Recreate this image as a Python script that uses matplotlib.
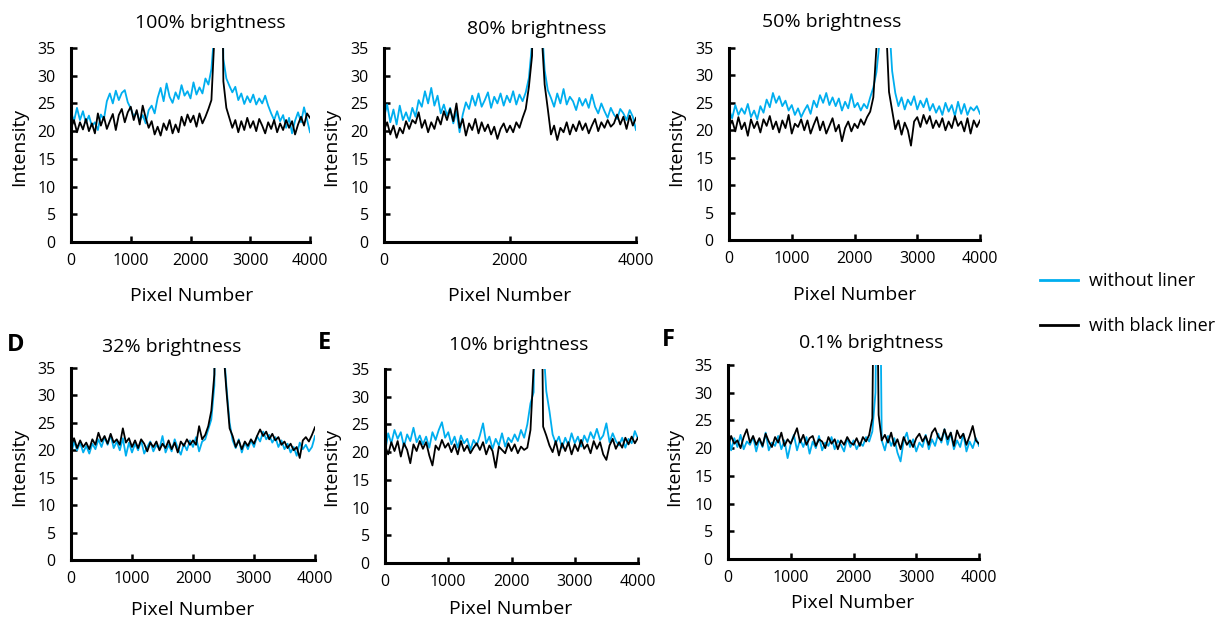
import numpy as np
import matplotlib
matplotlib.use("Agg")
import matplotlib.pyplot as plt
from matplotlib.lines import Line2D

plt.rcParams['font.family'] = ['Open Sans', 'DejaVu Sans']

pixel = np.arange(0, 4001, 50)

titles = ["100% brightness", "80% brightness", "50% brightness",
          "32% brightness", "10% brightness", "0.1% brightness"]
panel_letters = ["", "", "", "D", "E", "F"]
series_names = ["without liner", "with black liner"]

a_without = [23.5, 21.8, 24.2, 22.0, 23.6, 21.5, 22.8, 20.9, 21.6, 20.2,
             23.0, 22.1, 25.4, 26.8, 25.0, 27.3, 25.6, 26.9, 27.4, 25.2,
             24.1, 22.6, 23.5, 21.8, 22.9, 21.4, 23.8, 24.6, 23.2, 26.0,
             27.8, 25.4, 28.6, 26.2, 25.1, 27.0, 25.8, 28.3, 26.4, 27.2,
             25.9, 28.8, 26.6, 27.9, 26.8, 29.5, 28.4, 31.2, 38.0, 80.0,
             80.0, 33.0, 29.5, 28.2, 27.0, 28.0, 25.6, 26.8, 24.9, 26.3,
             25.2, 26.6, 24.8, 25.9, 25.0, 26.4, 24.6, 23.2, 22.0, 23.6,
             21.8, 22.9, 20.6, 22.4, 19.6, 21.9, 23.4, 21.6, 24.3, 22.1,
             19.8]
a_black = [20.5, 22.0, 19.8, 21.6, 20.3, 22.2, 20.0, 21.4, 19.6, 23.2,
           21.0, 22.6, 20.4, 21.8, 23.1, 20.2, 22.9, 24.0, 21.6, 23.4,
           24.4, 22.0, 23.8, 21.2, 24.6, 22.4, 20.6, 21.8, 19.4, 20.8,
           19.2, 21.4, 20.2, 22.0, 19.6, 21.2, 19.8, 22.6, 21.0, 23.0,
           21.6, 22.8, 20.8, 23.2, 21.4, 22.6, 24.0, 25.6, 37.0, 80.0,
           80.0, 29.0, 24.2, 22.4, 20.6, 22.0, 19.8, 21.8, 20.2, 22.4,
           20.6, 21.8, 20.0, 22.2, 21.0, 19.6, 21.6, 20.4, 22.0, 19.8,
           21.4, 20.2, 22.0, 20.6, 21.8, 19.4, 21.2, 22.6, 21.0, 23.2,
           22.4]

b_without = [22.5, 24.8, 21.6, 23.9, 21.2, 24.6, 22.0, 23.4, 21.8, 24.2,
             22.6, 25.6, 24.4, 27.2, 25.0, 27.8, 24.6, 26.4, 23.2, 24.8,
             22.8, 24.2, 21.4, 23.6, 19.8, 23.0, 25.2, 24.0, 26.4, 24.6,
             26.8, 24.4, 25.6, 27.0, 24.2, 26.2, 25.0, 26.8, 24.6, 26.4,
             25.2, 27.2, 24.8, 26.6, 25.4, 27.0, 29.6, 35.8, 80.0, 80.0,
             40.0, 31.0, 27.4, 26.0, 24.4, 26.8, 25.0, 27.6, 24.8, 26.2,
             25.4, 23.8, 26.0, 24.6, 25.8, 24.2, 26.6, 24.4, 23.2, 25.0,
             23.6, 22.4, 24.2, 23.0, 22.2, 24.0, 23.2, 22.0, 23.8, 22.6,
             20.2]
b_black = [20.2, 21.6, 19.4, 21.0, 18.8, 20.6, 19.6, 21.8, 20.4, 22.0,
           21.4, 23.4, 20.6, 22.0, 19.8, 21.6, 20.4, 22.6, 21.2, 23.6,
           22.0, 24.0, 21.8, 25.0, 20.6, 22.2, 19.2, 21.4, 20.2, 22.2,
           19.6, 21.6, 20.0, 21.2, 19.4, 20.8, 18.6, 20.4, 21.4, 19.8,
           21.0, 19.8, 21.6, 20.6, 22.4, 24.0, 28.0, 33.6, 80.0, 80.0,
           38.0, 28.4, 24.0, 19.4, 21.0, 18.4, 20.6, 19.8, 21.6, 19.4,
           21.2, 20.0, 21.8, 20.2, 21.4, 19.6, 21.0, 22.2, 20.0, 21.6,
           20.6, 22.0, 20.8, 21.4, 23.0, 21.2, 22.6, 20.4, 22.8, 21.0,
           22.4]

c_without = [23.8, 22.2, 24.6, 22.8, 24.0, 23.0, 24.8, 22.4, 23.6, 22.0,
             24.4, 23.2, 25.6, 24.2, 26.8, 25.0, 26.2, 24.4, 25.4, 23.6,
             24.6, 22.8, 24.0, 22.4, 23.6, 24.6, 23.0, 25.4, 24.2, 26.4,
             25.0, 26.8, 24.6, 26.0, 24.4, 25.8, 23.6, 25.2, 24.0, 26.6,
             24.2, 25.0, 23.6, 24.8, 24.0, 26.0, 27.8, 30.6, 36.2, 80.0,
             80.0, 40.0, 30.8, 26.8, 24.4, 26.0, 23.8, 25.6, 24.6, 26.2,
             23.8, 25.4, 24.2, 25.8, 23.6, 24.8, 23.2, 24.4, 22.8, 25.0,
             23.4, 24.6, 22.6, 25.2, 23.0, 24.8, 22.8, 24.2, 23.6, 24.4,
             23.0]
c_black = [20.6, 21.8, 19.8, 22.4, 20.2, 21.4, 19.0, 22.0, 20.4, 21.6,
           19.6, 22.0, 20.8, 22.6, 20.2, 21.6, 19.6, 21.8, 20.4, 22.8,
           19.4, 21.2, 20.6, 22.0, 20.0, 21.8, 19.4, 21.0, 22.4, 20.0,
           21.6, 19.4, 20.8, 22.2, 19.8, 21.0, 18.0, 20.4, 21.6, 19.8,
           21.2, 20.4, 22.0, 21.0, 22.4, 23.4, 26.0, 35.2, 80.0, 80.0,
           40.0, 27.0, 23.6, 20.2, 21.8, 19.2, 21.4, 20.0, 17.2, 21.6,
           22.4, 20.6, 22.8, 21.2, 22.6, 20.4, 21.8, 20.6, 22.2, 20.0,
           21.6, 20.4, 22.6, 20.8, 21.6, 19.8, 22.2, 19.4, 21.8, 20.6,
           21.8]

d_without = [19.2, 21.6, 20.0, 21.4, 19.6, 20.8, 19.4, 21.2, 20.2, 22.0,
             20.6, 22.4, 21.0, 22.8, 20.4, 21.6, 20.0, 22.2, 19.0, 21.4,
             19.6, 21.2, 20.0, 21.8, 19.4, 20.6, 21.6, 19.8, 21.0, 20.2,
             22.6, 19.6, 21.0, 19.8, 22.0, 20.4, 19.2, 21.2, 20.0, 21.8,
             20.6, 22.4, 19.8, 21.6, 22.0, 23.8, 25.6, 31.8, 80.0, 80.0,
             39.0, 31.4, 25.0, 21.8, 20.4, 22.0, 19.6, 21.4, 20.2, 21.8,
             20.6, 22.6, 21.6, 23.4, 22.0, 22.8, 21.4, 22.4, 20.6, 21.8,
             20.2, 21.2, 19.6, 20.6, 19.0, 21.4, 20.2, 21.0, 19.8, 20.6,
             22.6]
d_black = [20.8, 22.2, 20.4, 21.8, 20.6, 21.4, 20.2, 22.0, 21.0, 23.2,
           21.6, 22.6, 21.2, 23.0, 21.4, 22.0, 21.0, 24.0, 21.4, 22.2,
           20.6, 21.8, 20.4, 22.0, 21.2, 19.8, 21.4, 20.6, 21.6, 20.0,
           21.2, 20.4, 21.8, 20.2, 21.4, 19.6, 21.6, 20.8, 22.0, 21.0,
           21.8, 21.0, 24.4, 22.0, 22.8, 24.4, 27.2, 33.8, 80.0, 80.0,
           38.0, 30.6, 24.0, 22.6, 20.6, 21.8, 20.2, 21.6, 20.8, 22.0,
           21.2, 22.6, 23.8, 22.6, 23.4, 22.0, 23.0, 21.8, 22.4, 21.0,
           21.6, 20.4, 21.2, 20.0, 20.6, 18.6, 21.8, 22.4, 21.6, 22.8,
           24.2]

e_without = [20.0, 23.4, 21.6, 24.0, 22.4, 23.6, 21.0, 23.2, 22.0, 24.4,
             21.8, 23.0, 21.4, 22.8, 20.8, 23.6, 22.2, 24.0, 25.4, 22.6,
             23.6, 21.4, 22.8, 20.8, 23.0, 21.6, 22.4, 20.4, 22.2, 21.2,
             23.0, 25.2, 21.6, 22.8, 20.6, 22.4, 21.2, 23.4, 21.0, 22.6,
             21.8, 23.2, 22.0, 24.0, 22.6, 25.0, 28.8, 30.8, 80.0, 80.0,
             40.0, 31.0, 27.4, 23.2, 21.6, 22.8, 20.8, 22.6, 21.2, 23.4,
             21.6, 22.8, 21.0, 23.0, 21.8, 23.6, 22.4, 24.2, 22.2, 23.0,
             25.2, 21.8, 23.4, 22.0, 21.2, 22.6, 20.8, 22.4, 21.6, 23.8,
             22.4]
e_black = [21.2, 19.6, 21.8, 20.2, 22.0, 19.2, 21.6, 20.4, 18.0, 21.4,
           20.2, 22.0, 20.6, 21.8, 19.4, 17.6, 21.2, 20.4, 22.2, 20.8,
           21.6, 20.0, 21.4, 19.6, 22.0, 20.2, 21.2, 19.8, 20.8, 21.6,
           20.4, 21.8, 19.6, 21.2, 20.2, 17.2, 21.0, 20.4, 19.8, 21.6,
           20.2, 21.4, 19.8, 21.0, 20.4, 20.8, 24.0, 35.4, 80.0, 80.0,
           24.6, 23.0, 21.2, 20.0, 22.0, 19.4, 21.6, 20.2, 21.8, 19.6,
           21.4, 20.2, 22.2, 20.6, 21.4, 19.8, 22.0, 20.6, 21.8, 19.6,
           18.6, 21.2, 22.4, 20.6, 21.8, 20.8, 22.6, 21.4, 22.8, 21.6,
           22.6]

f_without = [23.4, 19.6, 21.8, 20.2, 22.4, 19.8, 21.2, 20.6, 22.0, 19.4,
             21.6, 20.2, 22.8, 19.6, 21.0, 20.4, 22.2, 19.8, 21.4, 18.2,
             20.8, 22.4, 19.6, 21.6, 20.2, 22.0, 19.0, 21.2, 20.0, 22.2,
             19.6, 21.0, 20.4, 22.0, 19.8, 21.4, 20.6, 19.4, 21.8, 20.2,
             21.4, 19.8, 21.0, 20.4, 22.0, 21.2, 23.0, 30.0, 80.0, 21.4,
             19.6, 22.2, 20.4, 21.8, 19.2, 17.6, 21.4, 22.8, 20.2, 21.6,
             19.4, 21.0, 20.2, 22.4, 19.8, 21.6, 20.4, 22.6, 21.0, 23.4,
             20.6, 22.8, 19.8, 21.4, 20.2, 22.6, 19.4, 21.2, 20.0, 21.8,
             20.4]
f_black = [20.4, 22.2, 20.8, 21.4, 20.0, 22.0, 23.4, 21.0, 22.2, 20.6,
           21.8, 20.4, 22.6, 21.2, 20.2, 22.0, 21.0, 22.8, 20.4, 21.6,
           20.8, 22.2, 23.6, 21.0, 22.4, 20.6, 21.8, 22.2, 20.4, 21.6,
           21.2, 20.0, 22.0, 20.8, 21.6, 19.8, 21.4, 20.6, 22.0, 21.0,
           20.6, 21.8, 20.4, 22.0, 21.2, 22.4, 25.4, 80.0, 26.0, 21.4,
           22.4, 21.0, 22.8, 20.4, 21.6, 19.8, 22.0, 20.6, 21.4, 20.2,
           21.8, 22.6, 21.2, 22.2, 20.6, 22.8, 23.6, 22.0, 21.4, 23.4,
           21.6, 22.8, 20.4, 23.2, 21.8, 22.6, 20.6, 22.2, 24.0, 21.4,
           20.8]

without_liner = [a_without, b_without, c_without, d_without, e_without, f_without]
with_black = [a_black, b_black, c_black, d_black, e_black, f_black]

x_ticks_sets = [[0, 1000, 2000, 3000, 4000], [0, 2000, 4000],
                [0, 1000, 2000, 3000, 4000], [0, 1000, 2000, 3000, 4000],
                [0, 1000, 2000, 3000, 4000], [0, 1000, 2000, 3000, 4000]]
y_ticks = [0, 5, 10, 15, 20, 25, 30, 35]

W, H = 1218, 625
fig = plt.figure(figsize=(W / 100, H / 100), dpi=100)

# axes boxes in pixels: left, right, top, bottom
boxes = [(71, 310, 48, 242), (384, 636, 48, 242), (729, 980, 48, 240),
         (71, 315, 368, 560), (385, 638, 369, 563), (728, 979, 365, 559)]
title_pos = [(210, 23), (537, 29), (832, 22), (172, 347), (519, 345), (871, 343)]
ylabel_pos = [(19, 147), (331, 147), (676, 147), (19, 467), (331, 467), (674, 467)]
xlabel_pos = [(192, 296), (510, 296), (855, 295), (193, 610), (511, 609), (853, 603)]
letter_pos = [None, None, None, (7, 345), (318, 343), (662, 340)]

blue = '#00AEEF'

def fx(px):
    return px / W

def fy(py):
    return 1 - py / H

for i in range(6):
    l, r, t, b = boxes[i]
    ax = fig.add_axes([fx(l), fy(b), (r - l) / W, (b - t) / H])
    ax.plot(pixel, without_liner[i], color=blue, lw=1.3, label=series_names[0])
    ax.plot(pixel, with_black[i], color='black', lw=1.3, label=series_names[1])
    ax.set_xlim(0, 4000)
    ax.set_ylim(0, 35)
    ax.set_xticks(x_ticks_sets[i])
    ax.set_yticks(y_ticks)
    for s in ['top', 'right']:
        ax.spines[s].set_visible(False)
    for s in ['left', 'bottom']:
        ax.spines[s].set_linewidth(2.2)
    ax.tick_params(direction='in', length=4, width=1.8, labelsize=11.5, pad=8,
                   colors='black')
    ax.tick_params(axis='y', pad=11)
    ax.set_xlabel("Pixel Number", fontsize=14)
    ax.set_ylabel("Intensity", fontsize=14)
    xl, yl = xlabel_pos[i]
    ax.xaxis.set_label_coords((xl - l) / (r - l), (b - yl) / (b - t))
    ax.xaxis.label.set_va('center')
    xl2, yl2 = ylabel_pos[i]
    ax.yaxis.set_label_coords((xl2 - l) / (r - l), (b - yl2) / (b - t))
    ax.yaxis.label.set_va('center')
    tx, ty = title_pos[i]
    fig.text(fx(tx), fy(ty), titles[i], fontsize=14, ha='center', va='center')
    if letter_pos[i] is not None:
        lx, ly = letter_pos[i]
        fig.text(fx(lx), fy(ly), panel_letters[i], fontsize=17, fontweight='bold',
                 ha='left', va='center')

handles = [Line2D([], [], color=blue, lw=2), Line2D([], [], color='black', lw=2)]
fig.legend(handles, series_names, loc='upper left',
           bbox_to_anchor=(fx(1024), fy(256)), frameon=False, fontsize=13,
           handlelength=2.1, handletextpad=0.6, labelspacing=1.5)

fig.savefig("out.png", dpi=100)
